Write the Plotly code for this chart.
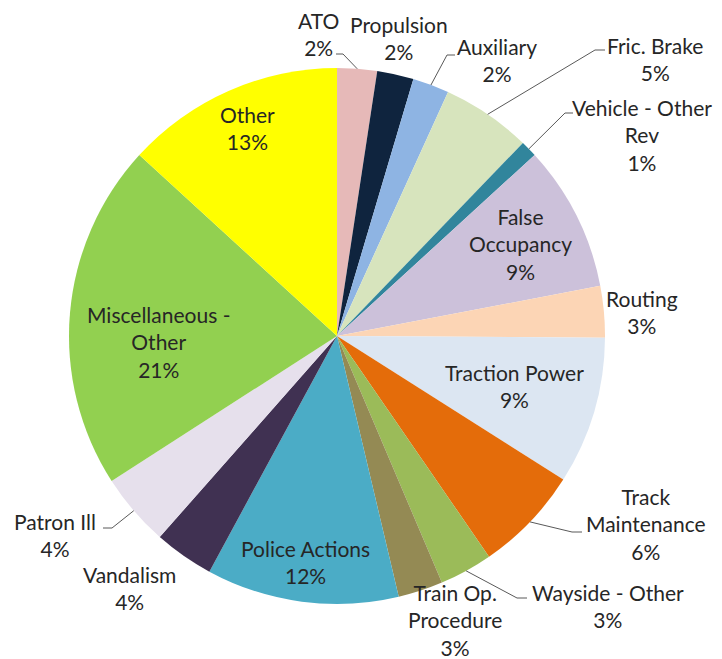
import math
import plotly.graph_objects as go

# slices, clockwise from 12 o'clock
categories = ["ATO", "Propulsion", "Auxiliary", "Fric. Brake", "Vehicle - Other Rev",
              "False Occupancy", "Routing", "Traction Power", "Track Maintenance",
              "Wayside - Other", "Train Op. Procedure", "Police Actions", "Vandalism",
              "Patron Ill", "Miscellaneous - Other", "Other"]
shares = [2.4, 2.2, 2.2, 5.4, 1.0, 8.8, 3.1, 8.9, 6.4, 3.2, 2.7, 11.6, 3.6, 4.4, 20.9, 13.2]
label_text = ["ATO", "Propulsion", "Auxiliary", "Fric. Brake", "Vehicle - Other<br>Rev",
              "False<br>Occupancy", "Routing", "Traction Power", "Track<br>Maintenance",
              "Wayside - Other", "Train Op.<br>Procedure", "Police Actions", "Vandalism",
              "Patron Ill", "Miscellaneous -<br>Other", "Other"]
colors = ["#E6B9B8", "#0F243E", "#8EB4E3", "#D7E4BD", "#31859C", "#CCC1DA", "#FCD5B5",
          "#DCE6F2", "#E46C0A", "#9BBB59", "#948A54", "#4BACC6", "#403152", "#E6E0EC",
          "#92D050", "#FFFF00"]

W, H = 722, 659
OFF = 8  # page body margin
cx, cy, r = 337, 336, 268

# label block centres (window pixels)
label_pos = [(318, 34), (399, 38), (497, 60), (655, 59), (642, 135), (520, 244),
             (642, 312), (515, 386), (646, 524), (608, 606), (455, 620), (305, 562),
             (129, 588), (55, 535), (158, 342), (247, 128)]
# leader lines: slice index, elbow, end
leaders = [(0, (343, 54), (336, 54)), (2, (447, 55), (455, 55)), (3, (595, 50), (605, 50)),
           (4, (565, 113), (573, 113)), (8, (572, 532), (582, 532)),
           (9, (517, 598), (527, 598)), (13, (112, 528), (103, 528))]


def px(x, y):
    return (x - OFF) / W, 1 - (y - OFF) / H


x0, y1 = px(cx - r, cy - r)
x1, y0 = px(cx + r, cy + r)

fig = go.Figure(go.Pie(
    labels=categories, values=shares, sort=False, direction="clockwise", rotation=0,
    marker=dict(colors=colors, line=dict(width=0)),
    textinfo="none", hoverinfo="label+percent",
    domain=dict(x=[x0, x1], y=[y0, y1]),
))

total = sum(shares)
annotations = []
for i, (lx, ly) in enumerate(label_pos):
    x, y = px(lx, ly)
    pct = round(shares[i] / total * 100)
    annotations.append(dict(x=x, y=y, xref="paper", yref="paper", showarrow=False,
                            text=f"{label_text[i]}<br>{pct}%", xanchor="center",
                            yanchor="middle", align="center",
                            font=dict(family="Lato", size=21, color="#262626")))

shapes = []
cum = [0]
for v in shares:
    cum.append(cum[-1] + v)
for i, elbow, end in leaders:
    a = (cum[i] + cum[i + 1]) / 2 / total * 2 * math.pi
    ex, ey = cx + r * math.sin(a), cy - r * math.cos(a)
    pts = [px(ex, ey), px(*elbow), px(*end)]
    path = "M {} {} L {} {} L {} {}".format(*[c for p in pts for c in p])
    shapes.append(dict(type="path", path=path, xref="paper", yref="paper",
                       line=dict(color="#595959", width=1)))

fig.update_layout(width=W, height=H, margin=dict(l=0, r=0, t=0, b=0),
                  showlegend=False, paper_bgcolor="white",
                  annotations=annotations, shapes=shapes)
fig.write_html("out.html")
